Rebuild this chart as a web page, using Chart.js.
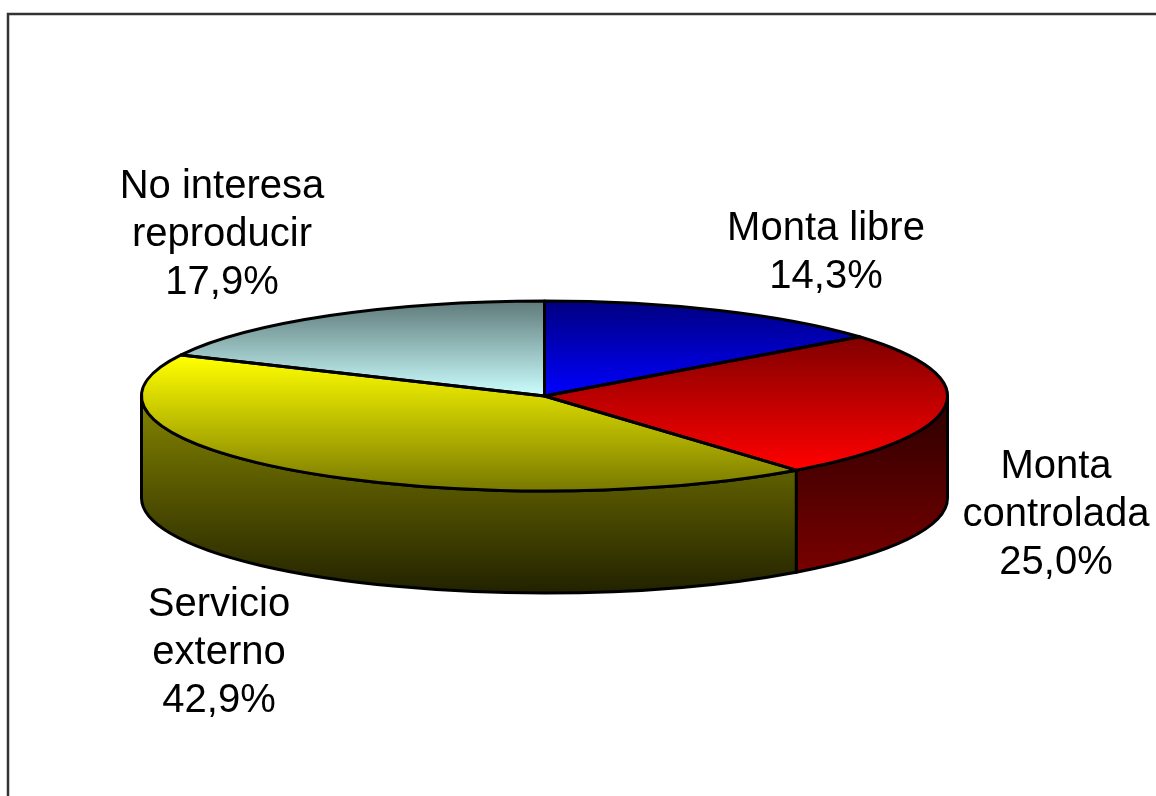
<!DOCTYPE html>
<html>
<head>
<meta charset="utf-8">
<style>html,body{margin:0;padding:0;background:#fff;overflow:hidden}canvas{display:block}</style>
<script src="https://cdn.jsdelivr.net/npm/chart.js@4"></script>
</head>
<body>
<canvas id="c" width="1156" height="796"></canvas>
<script>
const categories = ["Monta libre", "Monta controlada", "Servicio externo", "No interesa reproducir"];
const values = [14.3, 25.0, 42.9, 17.9];
const labelLines = [["Monta libre"], ["Monta", "controlada"], ["Servicio", "externo"], ["No interesa", "reproducir"]];
const labelCentres = [[826, 229], [1056, 467], [219, 605], [222, 187]];
const topStops = [[301, 396, "#000080", "#0000ff"], [337, 468, "#800000", "#ff0000"], [357, 491, "#ffff00", "#787800"], [301, 396, "#5f7a7a", "#ccffff"]];
const sideStops = [null, [400, 570, "#2c0000", "#780000"], [400, 600, "#848400", "#1e1e00"], null];

const RX = 403, RY = 95, DEPTH = 102, FONT_PX = 40, LINE_H = 48, STROKE = 3;
const squash = RY / RX;
const pieY = (chart, y) => { const cy = (chart.chartArea.top + chart.chartArea.bottom) / 2; return cy + (y - cy) / squash; };

function topGradient(ctx) {
  const chart = ctx.chart;
  if (!chart.chartArea) return "#000";
  const s = topStops[ctx.dataIndex];
  const g = chart.ctx.createLinearGradient(0, pieY(chart, s[0]), 0, pieY(chart, s[1]));
  g.addColorStop(0, s[2]); g.addColorStop(1, s[3]);
  return g;
}

const pie3d = {
  id: "pie3d",
  beforeDatasetDraw(chart) {
    const c = chart.ctx, a = chart.getDatasetMeta(0).data[0];
    // side walls
    chart.getDatasetMeta(0).data.forEach((arc, i) => {
      const s = sideStops[i]; if (!s) return;
      const from = Math.max(arc.startAngle, 0), to = Math.min(arc.endAngle, Math.PI);
      if (to <= from) return;
      const g = c.createLinearGradient(0, s[0], 0, s[1]);
      g.addColorStop(0, s[2]); g.addColorStop(1, s[3]);
      c.save();
      c.beginPath();
      c.ellipse(arc.x, arc.y, RX, RY, 0, from, to);
      c.ellipse(arc.x, arc.y + DEPTH, RX, RY, 0, to, from, true);
      c.closePath();
      c.fillStyle = g; c.fill();
      c.lineWidth = STROKE; c.strokeStyle = "#000"; c.lineJoin = "round"; c.stroke();
      c.restore();
    });
    // flatten the library's pie into the perspective ellipse
    c.save();
    c.translate(a.x, a.y); c.scale(1, squash); c.translate(-a.x, -a.y);
  },
  afterDatasetDraw(chart) {
    const c = chart.ctx;
    c.restore();
    c.save();
    c.lineWidth = STROKE; c.strokeStyle = "#000"; c.lineJoin = "round";
    chart.getDatasetMeta(0).data.forEach(arc => {
      c.beginPath();
      c.moveTo(arc.x, arc.y);
      c.ellipse(arc.x, arc.y, RX, RY, 0, arc.startAngle, arc.endAngle);
      c.closePath();
      c.stroke();
    });
    c.restore();
  },
  afterDraw(chart) {
    const c = chart.ctx;
    c.save();
    // frame
    c.strokeStyle = "#333"; c.lineWidth = 2.5;
    c.beginPath(); c.moveTo(8, 796); c.lineTo(8, 14); c.lineTo(1156, 14); c.stroke();
    // labels
    c.fillStyle = "#000"; c.font = FONT_PX + 'px "Liberation Sans", Arial, sans-serif';
    c.textAlign = "center"; c.textBaseline = "middle";
    values.forEach((v, i) => {
      const lines = labelLines[i].concat(v.toFixed(1).replace(".", ",") + "%");
      lines.forEach((t, j) => c.fillText(t, labelCentres[i][0], labelCentres[i][1] + j * LINE_H));
    });
    c.restore();
  }
};

new Chart(document.getElementById("c"), {
  type: "pie",
  data: { labels: categories, datasets: [{ data: values, backgroundColor: topGradient, borderWidth: 0 }] },
  options: {
    responsive: false, animation: false,
    radius: RX,
    layout: { padding: { right: 67, bottom: 4 } },
    plugins: { legend: { display: false }, tooltip: { enabled: false }, title: { display: false } }
  },
  plugins: [pie3d]
});
</script>
</body>
</html>
